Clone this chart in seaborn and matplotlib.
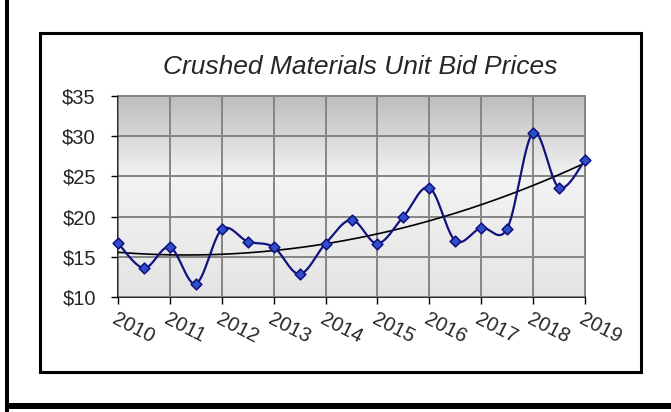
import numpy as np
import pandas as pd
import matplotlib
matplotlib.use("Agg")
import matplotlib.pyplot as plt
import seaborn as sns
from matplotlib.colors import LinearSegmentedColormap
from matplotlib.patches import Rectangle

# --- DATA (half-year bid prices) ---
years = [2010, 2010.5, 2011, 2011.5, 2012, 2012.5, 2013, 2013.5, 2014, 2014.5,
         2015, 2015.5, 2016, 2016.5, 2017, 2017.5, 2018, 2018.5, 2019]
prices = [16.7, 13.6, 16.2, 11.65, 18.4, 16.9, 16.2, 12.85, 16.65, 19.6,
          16.65, 20.0, 23.6, 17.0, 18.6, 18.5, 30.45, 23.6, 27.0]
year_ticks = list(range(2010, 2020))
price_ticks = [10, 15, 20, 25, 30, 35]
title = "Crushed Materials Unit Bid Prices"


def smooth_line(x, y, steps=30):
    # Excel-style smoothed line (Catmull-Rom through the points)
    x = np.asarray(x, float)
    y = np.asarray(y, float)
    px = np.concatenate([[x[0]], x, [x[-1]]])
    py = np.concatenate([[y[0]], y, [y[-1]]])
    out_x, out_y = [], []
    t = np.linspace(0, 1, steps)
    for i in range(1, len(px) - 2):
        p0, p1, p2, p3 = (np.array([px[j], py[j]]) for j in (i - 1, i, i + 1, i + 2))
        c1 = p1 + (p2 - p0) / 6
        c2 = p2 - (p3 - p1) / 6
        pts = ((1 - t) ** 3)[:, None] * p1 + (3 * (1 - t) ** 2 * t)[:, None] * c1 \
            + (3 * (1 - t) * t ** 2)[:, None] * c2 + (t ** 3)[:, None] * p2
        out_x.extend(pts[:, 0])
        out_y.extend(pts[:, 1])
    return np.array(out_x), np.array(out_y)


def main():
    sns.set_style("white")
    plt.rcParams['font.family'] = ['Liberation Sans', 'DejaVu Sans']

    df = pd.DataFrame({"Year": years, "Price": prices})
    sx, sy = smooth_line(df["Year"], df["Price"])
    smooth_df = pd.DataFrame({"Year": sx, "Price": sy})

    # 2nd order polynomial trendline
    coef = np.polyfit(df["Year"] - 2010, df["Price"], 2)
    tx = np.linspace(2010, 2019, 200)
    trend_df = pd.DataFrame({"Year": tx, "Price": np.polyval(coef, tx - 2010)})

    fig = plt.figure(figsize=(6.71, 4.12), dpi=100)

    # outer frame lines and inner chart box
    fig.add_artist(Rectangle((5 / 671, 0), 4 / 671, 1, transform=fig.transFigure,
                             color="black", lw=0))
    fig.add_artist(Rectangle((5 / 671, 1 - 409 / 412), 1, 6 / 412, transform=fig.transFigure,
                             color="black", lw=0))
    fig.add_artist(Rectangle((40 / 671, 1 - 372 / 412), 601 / 671, 339 / 412,
                             transform=fig.transFigure, fill=False, ec="black", lw=2.2))

    ax = fig.add_axes([118 / 671, 1 - 297 / 412, 467 / 671, 201 / 412])

    # gradient plot-area background
    cmap = LinearSegmentedColormap.from_list(
        "bg", [(0, "#e4e4e4"), (0.6, "#f3f3f3"), (1, "#bdbdbd")])
    grad = np.linspace(0, 1, 256)[:, None]
    ax.imshow(grad, cmap=cmap, aspect="auto", origin="lower",
              extent=[2010, 2019, 10, 35], zorder=0)

    ax.set_xlim(2010, 2019)
    ax.set_ylim(10, 35)
    ax.set_xticks(year_ticks)
    ax.set_yticks(price_ticks)
    ax.grid(True, color="#858585", lw=1.4, zorder=1)
    ax.set_axisbelow(False)

    sns.lineplot(data=trend_df, x="Year", y="Price", ax=ax, color="black",
                 lw=1.2, zorder=3, sort=False)
    sns.lineplot(data=smooth_df, x="Year", y="Price", ax=ax, color="#12127e",
                 lw=1.6, zorder=4, sort=False)
    pts = sns.scatterplot(data=df, x="Year", y="Price", ax=ax, marker="D", s=30,
                          color="#2f4fc8", edgecolor="#101080", linewidth=1.1, zorder=5)
    for coll in pts.collections:
        coll.set_clip_on(False)

    ax.set_xlabel("")
    ax.set_ylabel("")
    ax.set_yticklabels([f"${v}" for v in price_ticks], fontsize=14.5)
    ax.set_xticklabels([str(y) for y in year_ticks], fontsize=14.5, rotation=-27,
                       ha="left", va="top", rotation_mode="anchor")
    ax.tick_params(axis="both", which="both", length=5, width=1, color="black",
                   left=True, bottom=True)
    ax.tick_params(axis="y", pad=11)
    ax.tick_params(axis="x", pad=4)

    for side in ["top", "right"]:
        ax.spines[side].set_color("#858585")
        ax.spines[side].set_linewidth(1.4)
    for side in ["left", "bottom"]:
        ax.spines[side].set_color("black")
        ax.spines[side].set_linewidth(1.2)

    fig.text(360 / 671, 1 - 67 / 412, title, ha="center", va="center",
             fontsize=19, style="italic")

    plt.savefig("out.png", dpi=100)


if __name__ == "__main__":
    main()
